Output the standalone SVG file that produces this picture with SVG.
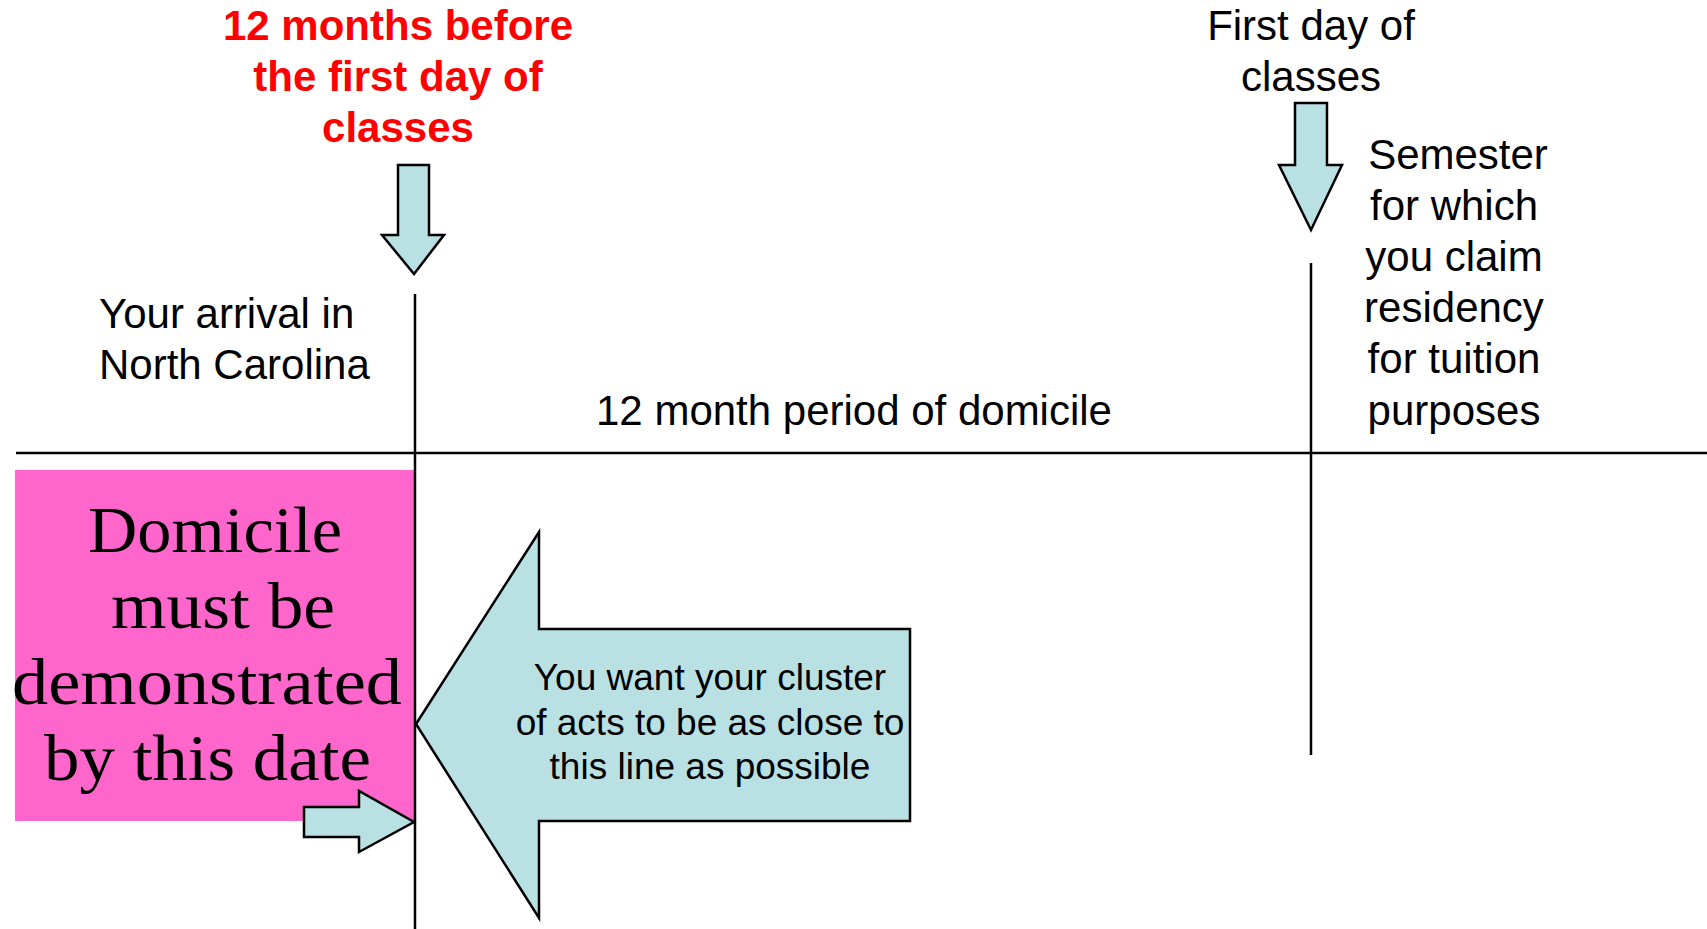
<svg xmlns="http://www.w3.org/2000/svg" width="1707" height="929" viewBox="0 0 1707 929">
<style>
.t{font-family:"Liberation Sans",Arial,sans-serif;font-size:42px;fill:#000}
.red{font-family:"Liberation Sans",Arial,sans-serif;font-size:42px;font-weight:bold;fill:#FF0000}
.s{font-family:"Liberation Sans",Arial,sans-serif;font-size:37px;fill:#000}
.serif{font-family:"Liberation Serif","Times New Roman",serif;font-size:66px;fill:#000}
.arrow{fill:#B9E0E3;stroke:#000;stroke-width:2.5;stroke-linejoin:miter}
.ln{stroke:#000;stroke-width:2.5;fill:none}
</style>
<rect width="1707" height="929" fill="#fff"/>
<g id="pink-box">
<rect x="15" y="470" width="400" height="351" fill="#FF66CC"/>
<text class="serif" x="88" y="552" textLength="254" lengthAdjust="spacingAndGlyphs">Domicile</text>
<text class="serif" x="111" y="628" textLength="224" lengthAdjust="spacingAndGlyphs">must be</text>
<text class="serif" x="12" y="704" textLength="390" lengthAdjust="spacingAndGlyphs">demonstrated</text>
<text class="serif" x="44" y="780" textLength="327" lengthAdjust="spacingAndGlyphs">by this date</text>
</g>
<g id="connectors">
<line class="ln" x1="16" y1="453" x2="1707" y2="453"/>
<line class="ln" x1="415" y1="294" x2="415" y2="929"/>
<line class="ln" x1="1311" y1="263" x2="1311" y2="755"/>
</g>
<g id="label-12-months-before">
<text class="red" text-anchor="middle" x="398" y="40">12 months before</text>
<text class="red" text-anchor="middle" x="398" y="91">the first day of</text>
<text class="red" text-anchor="middle" x="398" y="142">classes</text>
<polygon class="arrow" points="398,165 429,165 429,235 444,235 414,274 382,235 398,235"/>
</g>
<g id="label-arrival">
<text class="t" x="99" y="328">Your arrival in</text>
<text class="t" x="99" y="379">North Carolina</text>
</g>
<g id="label-period">
<text class="t" text-anchor="middle" x="854" y="425">12 month period of domicile</text>
</g>
<g id="label-first-day">
<text class="t" text-anchor="middle" x="1311" y="40">First day of</text>
<text class="t" text-anchor="middle" x="1311" y="91">classes</text>
<polygon class="arrow" points="1295,103 1327,103 1327,165 1342,165 1311,230 1279,165 1295,165"/>
</g>
<g id="label-semester">
<text class="t" text-anchor="middle" x="1458" y="169">Semester</text>
<text class="t" text-anchor="middle" x="1454" y="220">for which</text>
<text class="t" text-anchor="middle" x="1454" y="271">you claim</text>
<text class="t" text-anchor="middle" x="1454" y="322">residency</text>
<text class="t" text-anchor="middle" x="1454" y="373">for tuition</text>
<text class="t" text-anchor="middle" x="1454" y="425">purposes</text>
</g>
<g id="big-arrow">
<polygon class="arrow" points="416,724 539,532 539,629 910,629 910,821 539,821 539,918"/>
<text class="s" text-anchor="middle" x="710" y="690">You want your cluster</text>
<text class="s" text-anchor="middle" x="710" y="735">of acts to be as close to</text>
<text class="s" text-anchor="middle" x="710" y="779">this line as possible</text>
</g>
<g id="small-arrow">
<polygon class="arrow" points="304,807 359,807 359,791 414,822 359,852 359,837 304,837"/>
</g>
</svg>
